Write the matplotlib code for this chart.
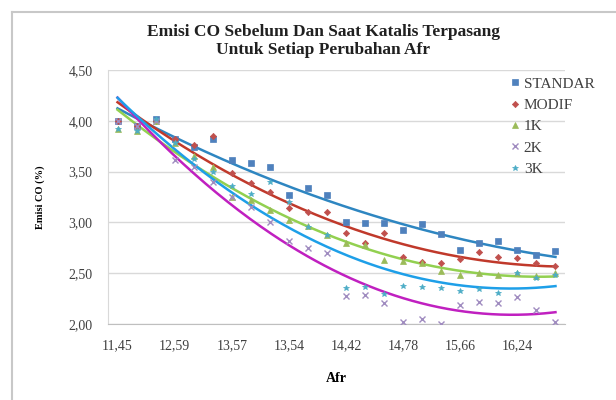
import numpy as np
import matplotlib
matplotlib.use('Agg')
import matplotlib.pyplot as plt

# Chart data - START #

afr_labels = ['11,45', '12,59', '13,57', '13,54', '14,42', '14,78', '15,66', '16,24']  # shown every 3rd category

standar = [4.00, 3.95, 4.02, 3.82, 3.74, 3.82, 3.61, 3.58, 3.55, 3.27, 3.34, 3.27,
           3.00, 2.99, 2.99, 2.93, 2.98, 2.89, 2.73, 2.80, 2.82, 2.73, 2.68, 2.72]
modif = [4.00, 3.95, 4.00, 3.82, 3.76, 3.85, 3.49, 3.39, 3.30, 3.14, 3.10, 3.10,
         2.90, 2.80, 2.90, 2.66, 2.61, 2.60, 2.64, 2.71, 2.66, 2.65, 2.60, 2.57]
k1 = [3.92, 3.90, 4.00, 3.78, 3.65, 3.55, 3.25, 3.22, 3.12, 3.02, 2.96, 2.88,
      2.80, 2.78, 2.63, 2.62, 2.60, 2.52, 2.48, 2.50, 2.48, 2.50, 2.47, 2.50]
k2 = [4.00, 3.95, 4.00, 3.61, 3.55, 3.40, 3.25, 3.15, 3.00, 2.82, 2.75, 2.70,
      2.28, 2.29, 2.21, 2.02, 2.05, 2.00, 2.19, 2.22, 2.21, 2.27, 2.14, 2.02]
k3 = [3.92, 3.90, 4.02, 3.78, 3.62, 3.50, 3.36, 3.28, 3.40, 3.20, 2.95, 2.88,
      2.35, 2.36, 2.30, 2.37, 2.36, 2.35, 2.32, 2.34, 2.31, 2.50, 2.45, 2.48]

series_names = ['STANDAR', 'MODIF', '1K', '2K', '3K']

# Chart data - END #

series_values = [standar, modif, k1, k2, k3]
marker_styles = ['s', 'D', '^', 'x', '*']
marker_colors = ['#4F81BD', '#C0504D', '#9BBB59', '#A08CC0', '#4BACC6']
trend_colors = ['#2E86C1', '#C0392B', '#92D050', '#C020C0', '#1E9FE8']

serif = ['Liberation Serif', 'DejaVu Serif']

fig = plt.figure(figsize=(6.16, 4.0), dpi=100)
ax = fig.add_axes([108 / 616, 1 - 324 / 400, (565 - 108) / 616, (324 - 70) / 400])

# chart border (top and left edges visible in the reference crop)
fig.add_artist(plt.Line2D([12 / 616, 12 / 616], [0, 1 - 12 / 400], color='#C8C8C8', linewidth=1.5))
fig.add_artist(plt.Line2D([12 / 616, 1], [1 - 12 / 400, 1 - 12 / 400], color='#C8C8C8', linewidth=1.5))

x = np.arange(len(standar))
x_fine = np.linspace(0, len(standar) - 1, 200)

for name, vals, mk, mc, tc in zip(series_names, series_values, marker_styles, marker_colors, trend_colors):
    ax.plot(x, vals, linestyle='none', marker=mk, markersize=4 if mk != 'D' else 3.2,
            color=mc, markeredgewidth=1 if mk == 'x' else 0.5, label=name, zorder=3)
    coef = np.polyfit(x, vals, 2)  # polynomial (order 2) trendline like Excel
    ax.plot(x_fine, np.polyval(coef, x_fine), color=tc, linewidth=1.8, zorder=2)

ax.set_xlim(-0.5, len(standar) - 0.5)
ax.set_ylim(2.0, 4.5)
ax.set_yticks(np.arange(2.0, 4.51, 0.5))
ax.set_yticklabels([f'{v:.2f}'.replace('.', ',') for v in np.arange(2.0, 4.51, 0.5)],
                   fontfamily=serif, fontsize=10, color='#404040')
ax.set_xticks(x[::3])
ax.set_xticklabels(afr_labels, fontfamily=serif, fontsize=10, color='#404040')
ax.tick_params(axis='y', length=0, pad=11)
ax.tick_params(axis='x', length=0, pad=11)
ax.grid(axis='y', color='#D9D9D9', linewidth=1)
ax.set_axisbelow(True)
for s in ['top', 'right']:
    ax.spines[s].set_visible(False)
ax.spines['left'].set_color('#D9D9D9')
ax.spines['bottom'].set_color('#BFBFBF')

ax.set_xlabel('Afr', fontfamily=serif, fontsize=10, fontweight='bold', labelpad=14)
ax.set_ylabel('Emisi CO (%)', fontfamily=serif, fontsize=7.5, fontweight='bold', labelpad=17)

fig.text(0.525, 1 - 41 / 400, 'Emisi CO Sebelum Dan Saat Katalis Terpasang\nUntuk Setiap Perubahan Afr',
         ha='center', va='center', fontfamily=serif, fontsize=12.5, fontweight='bold',
         linespacing=1.12, color='#202020')

ax.legend(loc='upper left', bbox_to_anchor=(504 / 616, 1 - 71 / 400), bbox_transform=fig.transFigure,
          frameon=False, prop={'family': serif, 'size': 11}, handlelength=0.6, handletextpad=0.3,
          labelspacing=0.5, borderaxespad=0, labelcolor='#404040')

fig.savefig('out.png', dpi=100)
